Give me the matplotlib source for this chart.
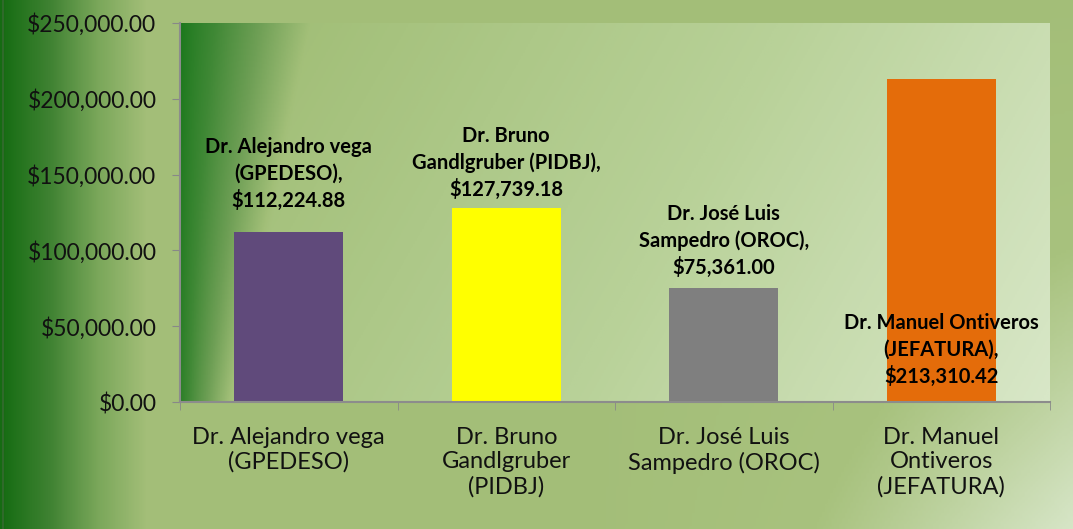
import matplotlib.pyplot as plt
import numpy as np
from matplotlib.colors import LinearSegmentedColormap

categories = ['Dr. Alejandro vega\n(GPEDESO)', 'Dr. Bruno\nGandlgruber\n(PIDBJ)',
              'Dr. José Luis\nSampedro (OROC)', 'Dr. Manuel\nOntiveros\n(JEFATURA)']
values = [112224.88, 127739.18, 75361.00, 213310.42]
bar_labels = ['Dr. Alejandro vega\n(GPEDESO),\n$112,224.88', 'Dr. Bruno\nGandlgruber (PIDBJ),\n$127,739.18',
              'Dr. José Luis\nSampedro (OROC),\n$75,361.00', 'Dr. Manuel Ontiveros\n(JEFATURA),\n$213,310.42']
colors = ['#604a7b', '#ffff00', '#7f7f7f', '#e46c0a']
yticks = [0, 50000, 100000, 150000, 200000, 250000]

plt.rcParams['font.family'] = ['Lato', 'DejaVu Sans']

W, H = 1073, 529
fig = plt.figure(figsize=(W / 100, H / 100), dpi=100)

# outer background: dark green at left edge fading to light green
bg = fig.add_axes([0, 0, 1, 1])
bg_cmap = LinearSegmentedColormap.from_list('bg', ['#156c12', '#3f8232', '#7aa75a', '#a3be78', '#a8c27e', '#d6e5c6'])
X, Y = np.meshgrid(np.linspace(0, 1, 400), np.linspace(0, 1, 200))
t = np.clip(X / 0.14, 0, 1) * 0.62 + np.clip((X - 0.55) / 0.45, 0, 1) * Y * 0.38
bg.imshow(t, cmap=bg_cmap, aspect='auto', extent=[0, 1, 0, 1], origin='upper', vmin=0, vmax=1)
bg.axvline(0.003, color='#2f6a2a', lw=1.5)
bg.set_axis_off()

left, right, top, bottom = 180, 1050, 23, 402
ax = fig.add_axes([left / W, 1 - bottom / H, (right - left) / W, (bottom - top) / H])
ax.set_xlim(-0.5, 3.5)
ax.set_ylim(0, 250000)

# plot area gradient: dark green at top-left, narrowing towards the bottom
pa_cmap = LinearSegmentedColormap.from_list('pa', ['#1b781c', '#3f8835', '#6e9f55', '#a2bf78', '#b8d198', '#d8e7c7'])
X, Y = np.meshgrid(np.linspace(0, 1, 500), np.linspace(0, 1, 250))
w = 0.15 - 0.085 * Y
r = np.clip(X / w, 0, 1) ** 0.8
t = r * 0.55 + np.clip(X * 0.8 + Y * 0.2, 0, 1) * 0.45
ax.imshow(t, cmap=pa_cmap, aspect='auto', extent=[-0.5, 3.5, 0, 250000], origin='upper',
          vmin=0, vmax=1, zorder=0)

x = np.arange(len(values))
ax.bar(x, values, width=0.5, color=colors, zorder=2)

# label offsets in points: above bar top, except the last one near the base
offsets = [15, 6, 7, None]
for i, (v, lab) in enumerate(zip(values, bar_labels)):
    if offsets[i] is not None:
        ax.annotate(lab, (i, v), xytext=(0, offsets[i]), textcoords='offset points', ha='center', va='bottom',
                    fontsize=14.5, fontweight='bold', color='black', linespacing=1.38, zorder=3)
    else:
        ax.annotate(lab, (i, 0), xytext=(0, 11), textcoords='offset points', ha='center', va='bottom',
                    fontsize=14.5, fontweight='bold', color='black', linespacing=1.38, zorder=3)

ax.set_yticks(yticks)
ax.set_yticklabels(['${:,.2f}'.format(v) for v in yticks], fontsize=16.5, color='#111111')
ax.set_xticks(x)
ax.set_xticklabels(categories, fontsize=17, linespacing=1.2, color='#111111')
ax.set_xticks(np.arange(-0.5, 4.0, 1), minor=True)
ax.tick_params(axis='x', which='major', length=0, pad=18)
ax.tick_params(axis='x', which='minor', length=6, color='#888888')
ax.tick_params(axis='y', length=6, color='#888888', pad=11)

for s in ['top', 'right']:
    ax.spines[s].set_visible(False)
for s in ['left', 'bottom']:
    ax.spines[s].set_color('#8c8c8c')
    ax.spines[s].set_linewidth(1.5)
ax.spines['bottom'].set_zorder(4)

fig.savefig('out.png', dpi=100)
